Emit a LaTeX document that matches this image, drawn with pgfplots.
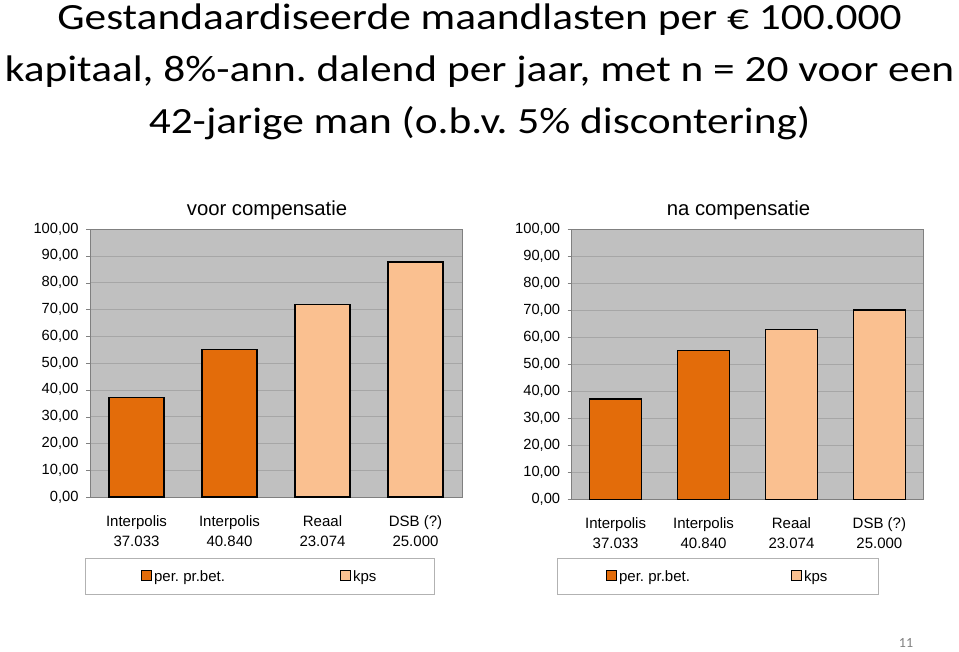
\documentclass[border=0pt]{standalone}
\usepackage{fontspec}
\setmainfont{Liberation Sans}
\newfontfamily\carlito{Carlito}
\usepackage{pgfplots}
\pgfplotsset{compat=1.18}
\definecolor{darkor}{HTML}{E36C0A}
\definecolor{lightor}{HTML}{FAC090}
\definecolor{bgc}{HTML}{C0C0C0}
\definecolor{gridc}{HTML}{A6A6A6}
\definecolor{axc}{HTML}{808080}
\pgfplotsset{
  cmp/.style={
    scale only axis,
    ybar, bar shift=0pt, bar width=0.59,
    xmin=-0.5, xmax=3.5, ymin=0, ymax=100,
    axis background/.style={fill=bgc},
    axis line style={draw=axc, line width=0.9pt},
    ymajorgrids, grid style={draw=gridc, line width=0.6pt},
    ytick={0,10,...,100},
    ytick pos=left, xtick pos=bottom,
    /pgf/number format/assume math mode=true,
    yticklabel style={/pgf/number format/fixed, /pgf/number format/fixed zerofill,
      /pgf/number format/precision=2, /pgf/number format/use comma,
      font=\fontsize{14.7}{16}\selectfont, xshift=-4pt},
    tick align=outside, major tick length=4pt,
    ytick style={draw=axc},
    xtick={0,1,2,3},
    xticklabels={{Interpolis\\37.033},{Interpolis\\40.840},{Reaal\\23.074},{DSB (?)\\25.000}},
    xticklabel style={align=center, font=\fontsize{15}{20}\selectfont, yshift=-11pt},
    xtick style={draw=none},
    extra x ticks={-0.5,0.5,1.5,2.5,3.5},
    extra x tick labels={},
    extra x tick style={tick style={draw=axc, solid}},
    title style={at={(0.5,1)}, anchor=base, yshift=8pt, xshift=-9pt, font=\fontsize{20.3}{24}\selectfont},
    legend columns=2,
    legend image code/.code={\draw[#1, draw=black, line width=0.9pt] (0pt,-4.5pt) rectangle (10pt,5.5pt);},
    legend style={anchor=north west, draw=gray!60, fill=white, inner ysep=10pt,
      font=\fontsize{15}{18}\selectfont, nodes={inner sep=2pt}},
  },
  barA/.style={fill=darkor, draw=black, line width=1.5pt},
  barB/.style={fill=lightor, draw=black, line width=1.5pt},
}
\frenchspacing
\begin{document}
\begin{tikzpicture}
\path[use as bounding box] (0pt,0pt) rectangle (959pt,-651pt);
\node[anchor=base, align=center, xscale=1.172, transform shape, font=\carlito\fontsize{37}{52}\selectfont] at (479.5pt,-133pt)
  {Gestandaardiseerde maandlasten per € 100.000\\kapitaal, 8\%-ann. dalend per jaar, met n = 20 voor een\\42-jarige man (o.b.v. 5\% discontering)};
\begin{axis}[cmp, at={(90pt,-497pt)}, anchor=south west, width=372pt, height=268pt,
  title={voor compensatie},
  legend style={at={(-0.0134,-0.2276)}, inner xsep=56pt}]
\addplot[barA] coordinates {(0,37.05) (1,55.0)};
\addlegendentry{\makebox[184pt][l]{per. pr.bet.}}
\addplot[barB] coordinates {(2,71.8) (3,87.7)};
\addlegendentry{kps}
\end{axis}
\begin{axis}[cmp, at={(571.7pt,-499.3pt)}, anchor=south west, width=351.6pt, height=270.3pt,
  title={na compensatie},
  legend style={at={(-0.0418,-0.217)}, inner xsep=49pt}]
\addplot[barA] coordinates {(0,37.2) (1,55.1)};
\addlegendentry{\makebox[170pt][l]{per. pr.bet.}}
\addplot[barB] coordinates {(2,62.9) (3,70.0)};
\addlegendentry{kps}
\end{axis}
\node[anchor=base, font=\carlito\fontsize{14}{16}\selectfont, text=gray] at (906pt,-647pt) {11};
\end{tikzpicture}
\end{document}
